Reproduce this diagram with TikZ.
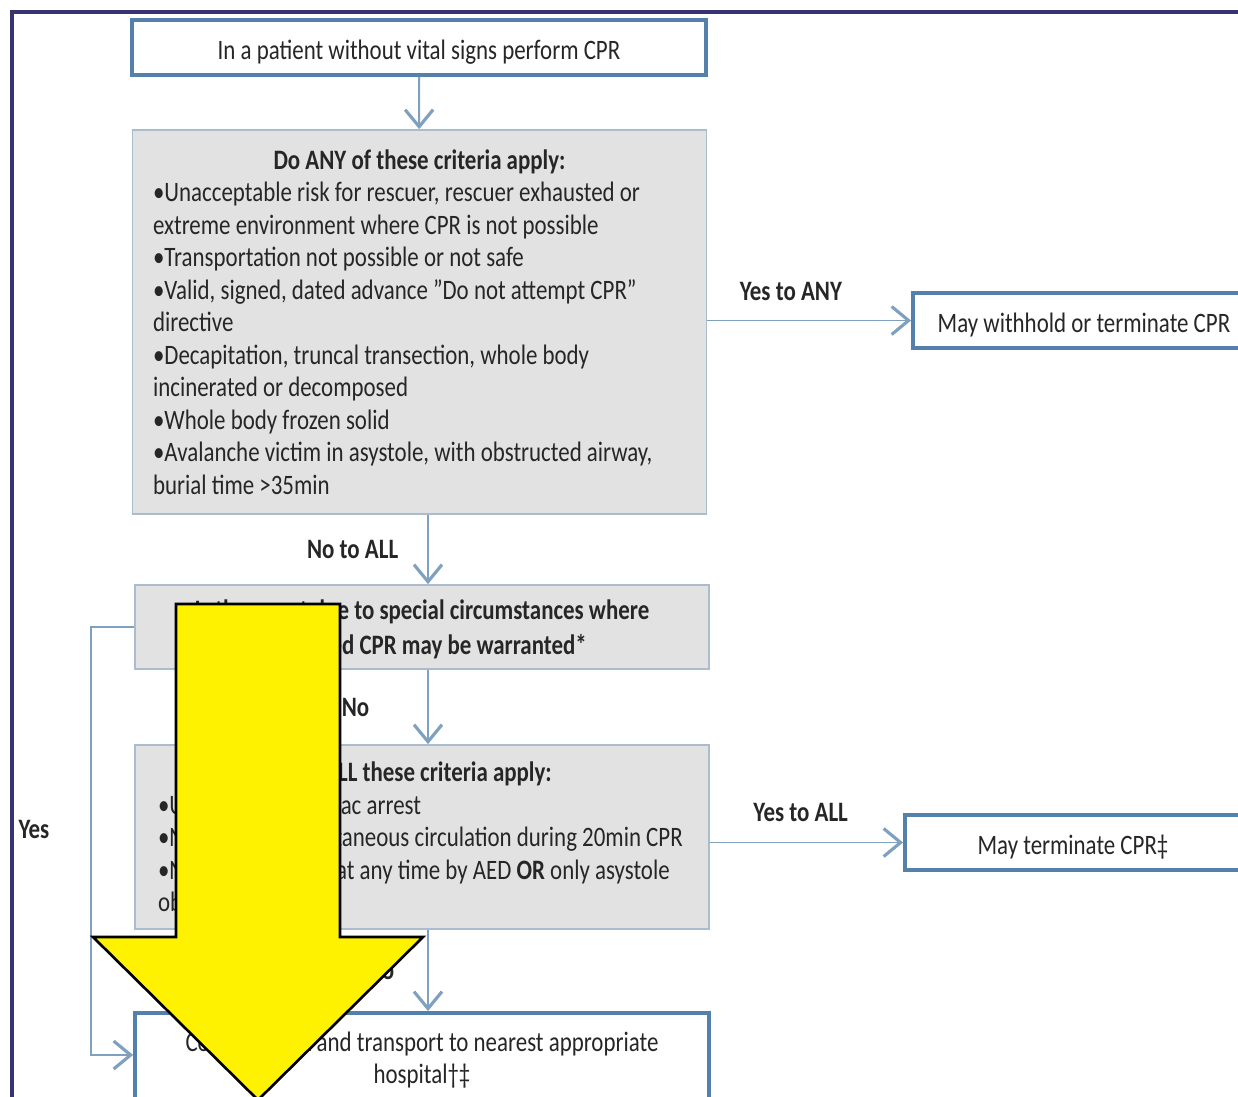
\documentclass[tikz,border=0pt]{standalone}
\usepackage{fontspec}
\setmainfont{Carlito}[FakeStretch=0.815]
\usetikzlibrary{arrows.meta,positioning}

\definecolor{boxblue}{RGB}{84,128,172}
\definecolor{linkblue}{RGB}{128,160,192}
\definecolor{critgrey}{RGB}{226,226,226}
\definecolor{critedge}{RGB}{170,188,206}
\definecolor{framenavy}{RGB}{56,52,112}
\definecolor{inkgrey}{RGB}{38,38,38}

\begin{document}
\begin{tikzpicture}[
  x=0.02cm, y=-0.02cm,
  font=\fontsize{16}{18.5}\selectfont, text=inkgrey,
  endbox/.style={draw=boxblue, line width=2.2pt, fill=white, minimum height=1.1cm,
                 align=center},
  oneline/.style={text height=17pt, text depth=3.5pt},
  critbox/.style={draw=critedge, line width=1pt, fill=critgrey, minimum width=11.48cm,
                  inner xsep=0.4cm},
  arr/.style={draw=linkblue, line width=1.1pt,
              -{Straight Barb[length=3.4mm, width=5.6mm, line width=1.8pt]}},
  lbl/.style={font=\fontsize{16}{18.5}\selectfont\bfseries}
]
  \useasboundingbox (0,0) rectangle (1238,1096);
  \clip (0,0) rectangle (1238,1096);
  \draw[framenavy, line width=2pt] (1250,12) -- (12,12) -- (12,1110);

  \node[endbox, oneline, minimum width=11.48cm] (start) at (419,47.5)
    {In a patient without vital signs perform CPR};
  \node[critbox, minimum height=7.68cm, text width=10.66cm, align=flush left] (anyCrit) at (419.5,322)
    {\makebox[\hsize]{\bfseries Do ANY of these criteria apply:}\\
     •Unacceptable risk for rescuer, rescuer exhausted or\\
     extreme environment where CPR is not possible\\
     •Transportation not possible or not safe\\
     •Valid, signed, dated advance "Do not attempt CPR"\\
     directive\\
     •Decapitation, truncal transection, whole body\\
     incinerated or decomposed\\
     •Whole body frozen solid\\
     •Avalanche victim in asystole, with obstructed airway,\\
     burial time >35min};
  \node[endbox, oneline, minimum width=6.84cm] (withhold) at (1084,320.5)
    {May withhold or terminate CPR};
  \node[critbox, minimum height=1.68cm, align=center, text depth=0pt,
        font=\fontsize{16}{19.5}\selectfont\bfseries] (special) at (422,627)
    {Is the arrest due to special circumstances where\\prolonged CPR may be warranted*};
  \node[critbox, minimum height=3.68cm, text width=10.56cm, align=flush left] (allCrit) at (422,837)
    {\makebox[\hsize]{\bfseries Do ALL these criteria apply:}\\
     \mbox{•Unwitnessed cardiac arrest}\\
     \mbox{•No return of spontaneous circulation during 20min CPR}\\
     \mbox{•No shock advised at any time by AED \textbf{OR} only asystole}\\
     \mbox{observed}};
  \node[endbox, oneline, minimum width=6.72cm] (terminate) at (1073,842.5)
    {May terminate CPR‡};
  \node[endbox, minimum width=11.48cm, minimum height=1.88cm] (transport) at (422,1060)
    {Continue CPR and transport to nearest appropriate\\hospital†‡};

  \draw[arr] (start) -- (anyCrit);
  \draw[arr] (anyCrit.east |- withhold.west) -- node[lbl, pos=0.41, above=7.5pt] {Yes to ANY} (withhold.west);
  \draw[arr] ([xshift=0.17cm]anyCrit.south) -- node[lbl, left=0.46cm] {No to ALL} ([xshift=0.12cm]special.north);
  \draw[arr] ([xshift=0.12cm]special.south) -- node[lbl, left=1.04cm] {No} ([xshift=0.12cm]allCrit.north);
  \draw[arr] (allCrit.east |- terminate.west) -- node[lbl, pos=0.47, above=8pt] {Yes to ALL} (terminate.west);
  \draw[arr] ([xshift=0.12cm]allCrit.south) -- node[lbl, left=0.54cm] {No} ([xshift=0.12cm]transport.north);
  \draw[arr] (special.west) -- ++(-43,0) |- ([yshift=0.1cm]transport.west);
  \node[lbl] (yesLbl) at (34,829) {Yes};

  % overlay arrow
  \draw[fill=yellow, draw=black, line width=1.5pt]
    (176,604) -- (340,604) -- (340,937) -- (423,937) -- (258,1100) -- (93,937) -- (176,937) -- cycle;
\end{tikzpicture}
\end{document}
